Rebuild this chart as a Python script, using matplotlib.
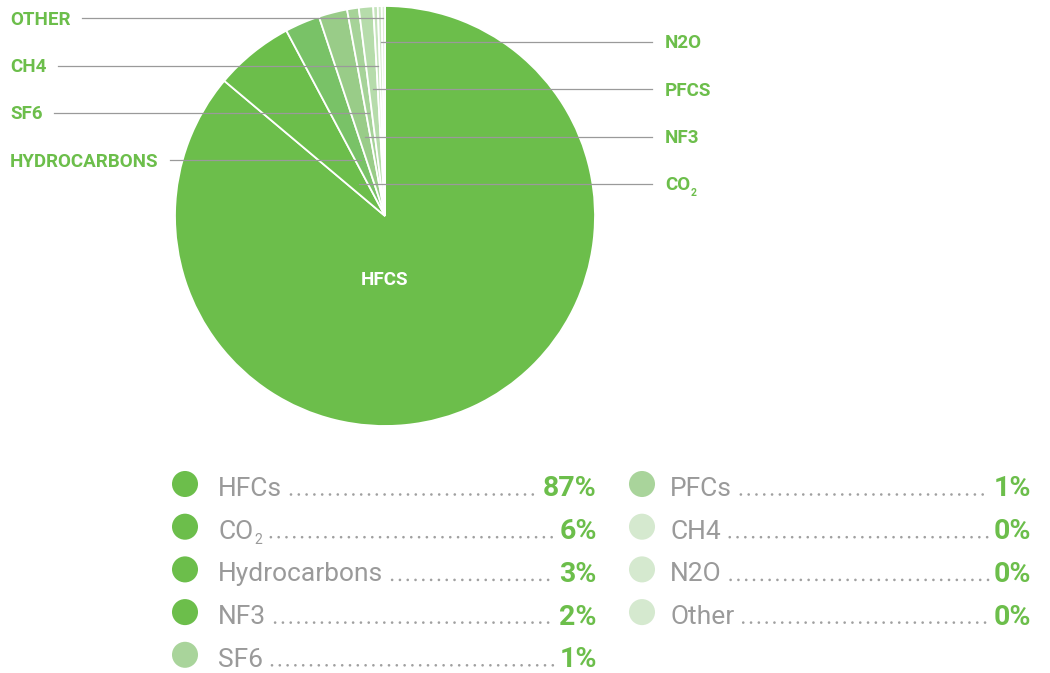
import matplotlib
matplotlib.use('Agg')
import matplotlib.pyplot as plt
import numpy as np

# ---------------- data ----------------
categories = ['HFCs', 'CO2', 'Hydrocarbons', 'NF3', 'SF6', 'PFCs', 'CH4', 'N2O', 'Other']
shares = [86.3, 6.1, 2.7, 2.2, 0.9, 1.1, 0.35, 0.3, 0.25]
pct_labels = ['87%', '6%', '3%', '2%', '1%', '1%', '0%', '0%', '0%']
pie_labels = ['HFCS', 'CO', 'HYDROCARBONS', 'NF3', 'SF6', 'PFCS', 'CH4', 'N2O', 'OTHER']
slice_colors = ['#6cbe4b', '#6cbe4b', '#79c267', '#99cc88', '#a6d398',
                '#b6dcab', '#c5e3bc', '#d0e8c9', '#dceed6']
legend_colors = ['#6cbe4b', '#6cbe4b', '#6cbe4b', '#6cbe4b', '#a9d49b',
                 '#a9d49b', '#d5e9cf', '#d5e9cf', '#d5e9cf']

GREEN = '#6cbe4b'
GRAY_TXT = '#9a9a9a'
LINE_GRAY = '#9a9a9a'
W, H = 1050, 673

fig = plt.figure(figsize=(W / 100, H / 100), dpi=100)
ax = fig.add_axes([0, 0, 1, 1])

CX, CY, R = 385, 216, 210
wedges, _ = ax.pie(shares, colors=slice_colors, startangle=-90, counterclock=True,
                   center=(CX, CY), radius=R,
                   wedgeprops=dict(edgecolor='white', linewidth=1.3))
ax.set_xlim(0, W)
ax.set_ylim(H, 0)
ax.set_aspect('equal')
ax.axis('off')

renderer = fig.canvas.get_renderer()
inv = ax.transData.inverted()


def extent(t):
    bb = t.get_window_extent(renderer=renderer)
    (x0, y0), (x1, y1) = inv.transform([[bb.x0, bb.y0], [bb.x1, bb.y1]])
    return x0, x1


lab_font = dict(family='Roboto', fontweight='bold', fontsize=13.5)

# HFCS label inside the pie
ax.text(CX, 280, pie_labels[0], color='white', ha='center', va='center', **lab_font)

# callout labels
for i in range(1, len(categories)):
    w = wedges[i]
    mid = np.deg2rad((w.theta1 + w.theta2) / 2)
    ly = 184 - 23.7 * (i - 1)
    dy = ly - CY
    ex = CX + dy / np.sin(mid) * np.cos(mid)
    if i % 2 == 1:  # right side
        ax.plot([ex, 652], [ly, ly], color=LINE_GRAY, lw=0.9, zorder=5)
        t = ax.text(665, ly + 1.5, pie_labels[i], color=GREEN, ha='left', va='center', **lab_font)
        if pie_labels[i] == 'CO':
            x0, x1 = extent(t)
            ax.text(x1 + 0.5, ly + 9, '2', color=GREEN, ha='left', va='center',
                    family='Roboto', fontweight='bold', fontsize=7.5)
    else:
        t = ax.text(10, ly + 1.5, pie_labels[i], color=GREEN, ha='left', va='center', **lab_font)
        x0, x1 = extent(t)
        ax.plot([x1 + 11, ex], [ly, ly], color=LINE_GRAY, lw=0.9, zorder=5)

# ---------------- legend ----------------
col_circle_x = [185, 642]
col_label_x = [218, 670]
col_value_r = [597, 1031]
row0, dyr = 484, 42.7
legend_names = ['HFCs', 'CO', 'Hydrocarbons', 'NF3', 'SF6', 'PFCs', 'CH4', 'N2O', 'Other']

for k, name in enumerate(legend_names):
    col = 0 if k < 5 else 1
    row = k if k < 5 else k - 5
    yc = row0 + dyr * row
    ax.scatter([col_circle_x[col]], [yc], s=26 ** 2 * 0.52, color=legend_colors[k],
               edgecolors='none', zorder=5)
    t = ax.text(col_label_x[col], yc + 12, name, color=GRAY_TXT, ha='left', va='baseline',
                family='Roboto', fontweight='normal', fontsize=19)
    x0, x1 = extent(t)
    if name == 'CO':
        t2 = ax.text(x1 + 1, yc + 17, '2', color=GRAY_TXT, ha='left', va='baseline',
                     family='Roboto', fontweight='normal', fontsize=10)
        x0, x1 = extent(t2)
    v = ax.text(col_value_r[col], yc + 12.5, pct_labels[k], color=GREEN, ha='right', va='baseline',
                family='Roboto', fontweight='bold', fontsize=20.5)
    v0, v1 = extent(v)
    xs = np.arange(x1 + 9, v0 - 5, 7.8)
    ax.scatter(xs, np.full_like(xs, yc + 10.5), s=3.5, color='#a0a0a0', edgecolors='none', zorder=5)

fig.savefig('out.png', dpi=100)
